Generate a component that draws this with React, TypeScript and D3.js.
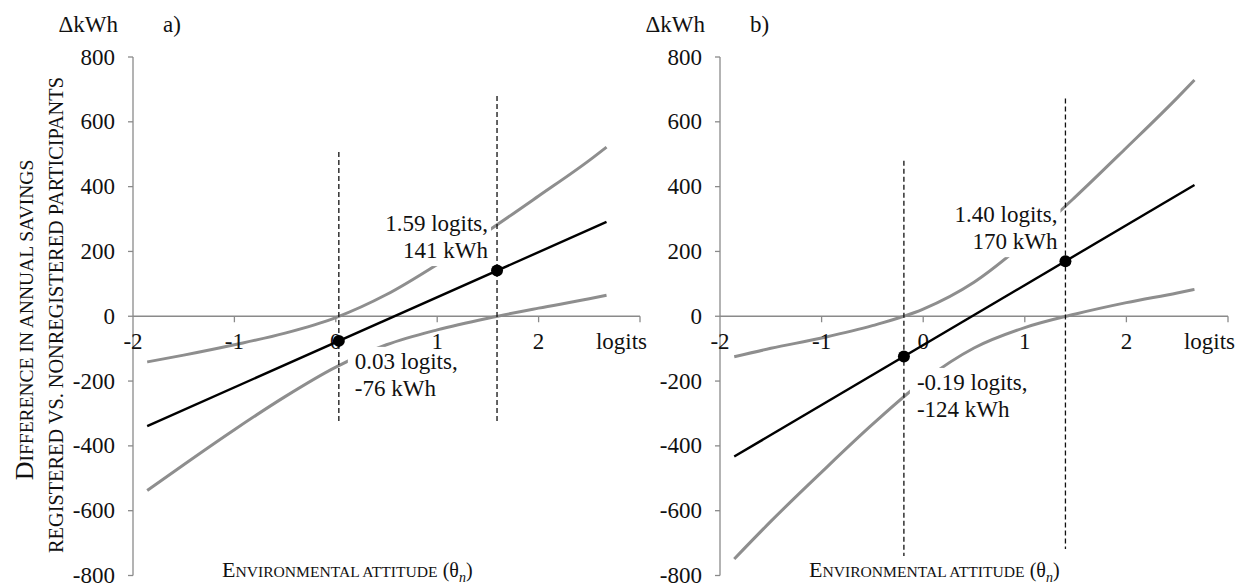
import React from "react";
import * as d3 from "d3";

// ---------- data ----------
const xTicks = [-2, -1, 0, 1, 2];
const yTicks = [-800, -600, -400, -200, 0, 200, 400, 600, 800];

const bandX = [-1.86, -1.5, -1, -0.5, 0, 0.5, 1, 1.5, 2, 2.5, 2.67];
const leftUpper = [-141, -120, -88, -52, -4, 67, 160, 263, 371, 481, 522];
const leftLower = [-538, -458, -350, -248, -157, -88, -42, -6, 25, 54, 65];
const rightUpper = [-125, -99, -67, -29, 22, 105, 227, 369, 520, 674, 729];
const rightLower = [-749, -633, -481, -334, -200, -98, -35, 7, 42, 72, 83];

const meanX = [-1.86, 2.67];
const leftMean = [-339, 291];
const rightMean = [-433, 405];

const leftPointsX = [0.03, 1.59];
const leftPointsY = [-76, 141];
const rightPointsX = [-0.19, 1.4];
const rightPointsY = [-124, 170];

// dashed guide extents (top value, bottom value) for each marked point
const leftDashTop = [507, 680];
const leftDashBottom = [-330, -330];
const rightDashTop = [480, 672];
const rightDashBottom = [-740, -718];

const leftLabels = [
  ["0.03 logits,", "-76 kWh"],
  ["1.59 logits,", "141 kWh"],
];
const rightLabels = [
  ["-0.19 logits,", "-124 kWh"],
  ["1.40 logits,", "170 kWh"],
];

const FONT = "'Liberation Serif', 'Times New Roman', serif";
const GRAY = "#8e8e8e";
const AXIS = "#8a8a8a";

type PanelProps = {
  x0: number;
  x1: number;
  upper: number[];
  lower: number[];
  mean: number[];
  px: number[];
  py: number[];
  dashTop: number[];
  dashBottom: number[];
  labels: string[][];
  letter: string;
  off: number[][];
};

function Panel(p: PanelProps) {
  const x = d3.scaleLinear().domain([-2, 3]).range([p.x0, p.x1]);
  const y = d3.scaleLinear().domain([-800, 800]).range([575.5, 57]);
  const line = d3
    .line<[number, number]>()
    .x((d) => x(d[0]))
    .y((d) => y(d[1]))
    .curve(d3.curveMonotoneX);
  const up = line(bandX.map((v, i) => [v, p.upper[i]]) as [number, number][]) || "";
  const lo = line(bandX.map((v, i) => [v, p.lower[i]]) as [number, number][]) || "";
  const mn = line(meanX.map((v, i) => [v, p.mean[i]]) as [number, number][]) || "";
  const y0 = y(0);
  const fs = 23;

  const lab0x = x(p.px[0]) + p.off[0][0];
  const lab0y = y(p.py[0]) + p.off[0][1];
  const lab1x = x(p.px[1]) + p.off[1][0];
  const lab1y = y(p.py[1]) + p.off[1][1];
  const boxW0 = p.labels[0][0].length * 9.6;
  const boxW1 = p.labels[1][0].length * 9.6;

  return (
    <g>
      {/* bands */}
      <path d={up} fill="none" stroke={GRAY} strokeWidth={3} />
      <path d={lo} fill="none" stroke={GRAY} strokeWidth={3} />

      {/* label backgrounds */}
      <rect x={lab0x - 7} y={lab0y - 22} width={boxW0 + 8} height={57} fill="#fff" />
      <rect x={lab1x - boxW1} y={lab1y - 23} width={boxW1 + 3} height={58} fill="#fff" />

      {/* axes */}
      <line x1={p.x0} x2={p.x0} y1={y(800)} y2={y(-800)} stroke={AXIS} strokeWidth={1.3} />
      {yTicks.map((t) => (
        <g key={"y" + t}>
          <line x1={p.x0 - 5} x2={p.x0} y1={y(t)} y2={y(t)} stroke={AXIS} strokeWidth={1.3} />
          <text
            x={p.x0 - 18}
            y={y(t) + 7.5}
            textAnchor="end"
            fontSize={fs}
            fontFamily={FONT}
            fill="#111"
          >
            {t}
          </text>
        </g>
      ))}
      <line x1={p.x0} x2={p.x1} y1={y0} y2={y0} stroke={AXIS} strokeWidth={1.3} />
      {[-1, 0, 1, 2, 3].map((t) => (
        <line key={"xt" + t} x1={x(t)} x2={x(t)} y1={y0} y2={y0 + 6} stroke={AXIS} strokeWidth={1.3} />
      ))}
      {xTicks.map((t) => (
        <text
          key={"xl" + t}
          x={x(t)}
          y={y0 + 33}
          textAnchor="middle"
          fontSize={fs}
          fontFamily={FONT}
          fill="#111"
        >
          {t}
        </text>
      ))}
      <text x={p.x1 + 7} y={y0 + 33} textAnchor="end" fontSize={fs} fontFamily={FONT} fill="#111">
        logits
      </text>

      {/* header */}
      <text x={p.x0 - 15} y={32} textAnchor="end" fontSize={fs} fontFamily={FONT} fill="#111">
        ΔkWh
      </text>
      <text x={p.x0 + 30} y={32} fontSize={fs} fontFamily={FONT} fill="#111">
        {p.letter}
      </text>

      {/* dashed guides */}
      {p.px.map((v, i) => (
        <line
          key={"d" + i}
          x1={x(v)}
          x2={x(v)}
          y1={y(p.dashTop[i])}
          y2={y(p.dashBottom[i])}
          stroke="#111"
          strokeWidth={1.3}
          strokeDasharray="5,3"
        />
      ))}

      {/* mean line */}
      <path d={mn} fill="none" stroke="#000" strokeWidth={2.4} />
      {p.px.map((v, i) => (
        <circle key={"c" + i} cx={x(v)} cy={y(p.py[i])} r={6} fill="#000" />
      ))}

      {/* labels */}
      <text x={lab0x} y={lab0y} fontSize={fs} fontFamily={FONT} fill="#111">
        <tspan x={lab0x}>{p.labels[0][0]}</tspan>
        <tspan x={lab0x} dy={27}>{p.labels[0][1]}</tspan>
      </text>
      <text x={lab1x} y={lab1y} fontSize={fs} fontFamily={FONT} fill="#111" textAnchor="end">
        <tspan x={lab1x}>{p.labels[1][0]}</tspan>
        <tspan x={lab1x} dy={27}>{p.labels[1][1]}</tspan>
      </text>

      {/* x-axis title */}
      <text x={p.x0 + 89} y={577} fontFamily={FONT} fill="#111">
        <tspan fontSize={22}>E</tspan>
        <tspan fontSize={15.6}>NVIRONMENTAL ATTITUDE</tspan>
        <tspan fontSize={20}> (θ</tspan>
        <tspan fontSize={14} fontStyle="italic" dy={5}>n</tspan>
        <tspan fontSize={20} dy={-5}>)</tspan>
      </text>
    </g>
  );
}

export default function App() {
  return (
    <svg
      width={1241}
      height={586}
      style={{ position: "absolute", left: 0, top: 0, background: "#fff" }}
    >
      <rect width={1241} height={586} fill="#fff" />
      <text transform="translate(33,320) rotate(-90)" textAnchor="middle" fontFamily={FONT} fill="#111">
        <tspan fontSize={26}>D</tspan>
        <tspan fontSize={19.5}>IFFERENCE IN ANNUAL SAVINGS</tspan>
      </text>
      <text transform="translate(63,315) rotate(-90)" textAnchor="middle" fontFamily={FONT} fill="#111">
        <tspan fontSize={20.3}>REGISTERED VS. NONREGISTERED PARTICIPANTS</tspan>
      </text>
      <Panel
        x0={133}
        x1={640}
        upper={leftUpper}
        lower={leftLower}
        mean={leftMean}
        px={leftPointsX}
        py={leftPointsY}
        dashTop={leftDashTop}
        dashBottom={leftDashBottom}
        labels={leftLabels}
        letter="a)"
        off={[[16, 28], [-9, -39.5]]}
      />
      <Panel
        x0={720}
        x1={1228}
        upper={rightUpper}
        lower={rightLower}
        mean={rightMean}
        px={rightPointsX}
        py={rightPointsY}
        dashTop={rightDashTop}
        dashBottom={rightDashBottom}
        labels={rightLabels}
        letter="b)"
        off={[[13, 33.5], [-8, -39]]}
      />
    </svg>
  );
}
